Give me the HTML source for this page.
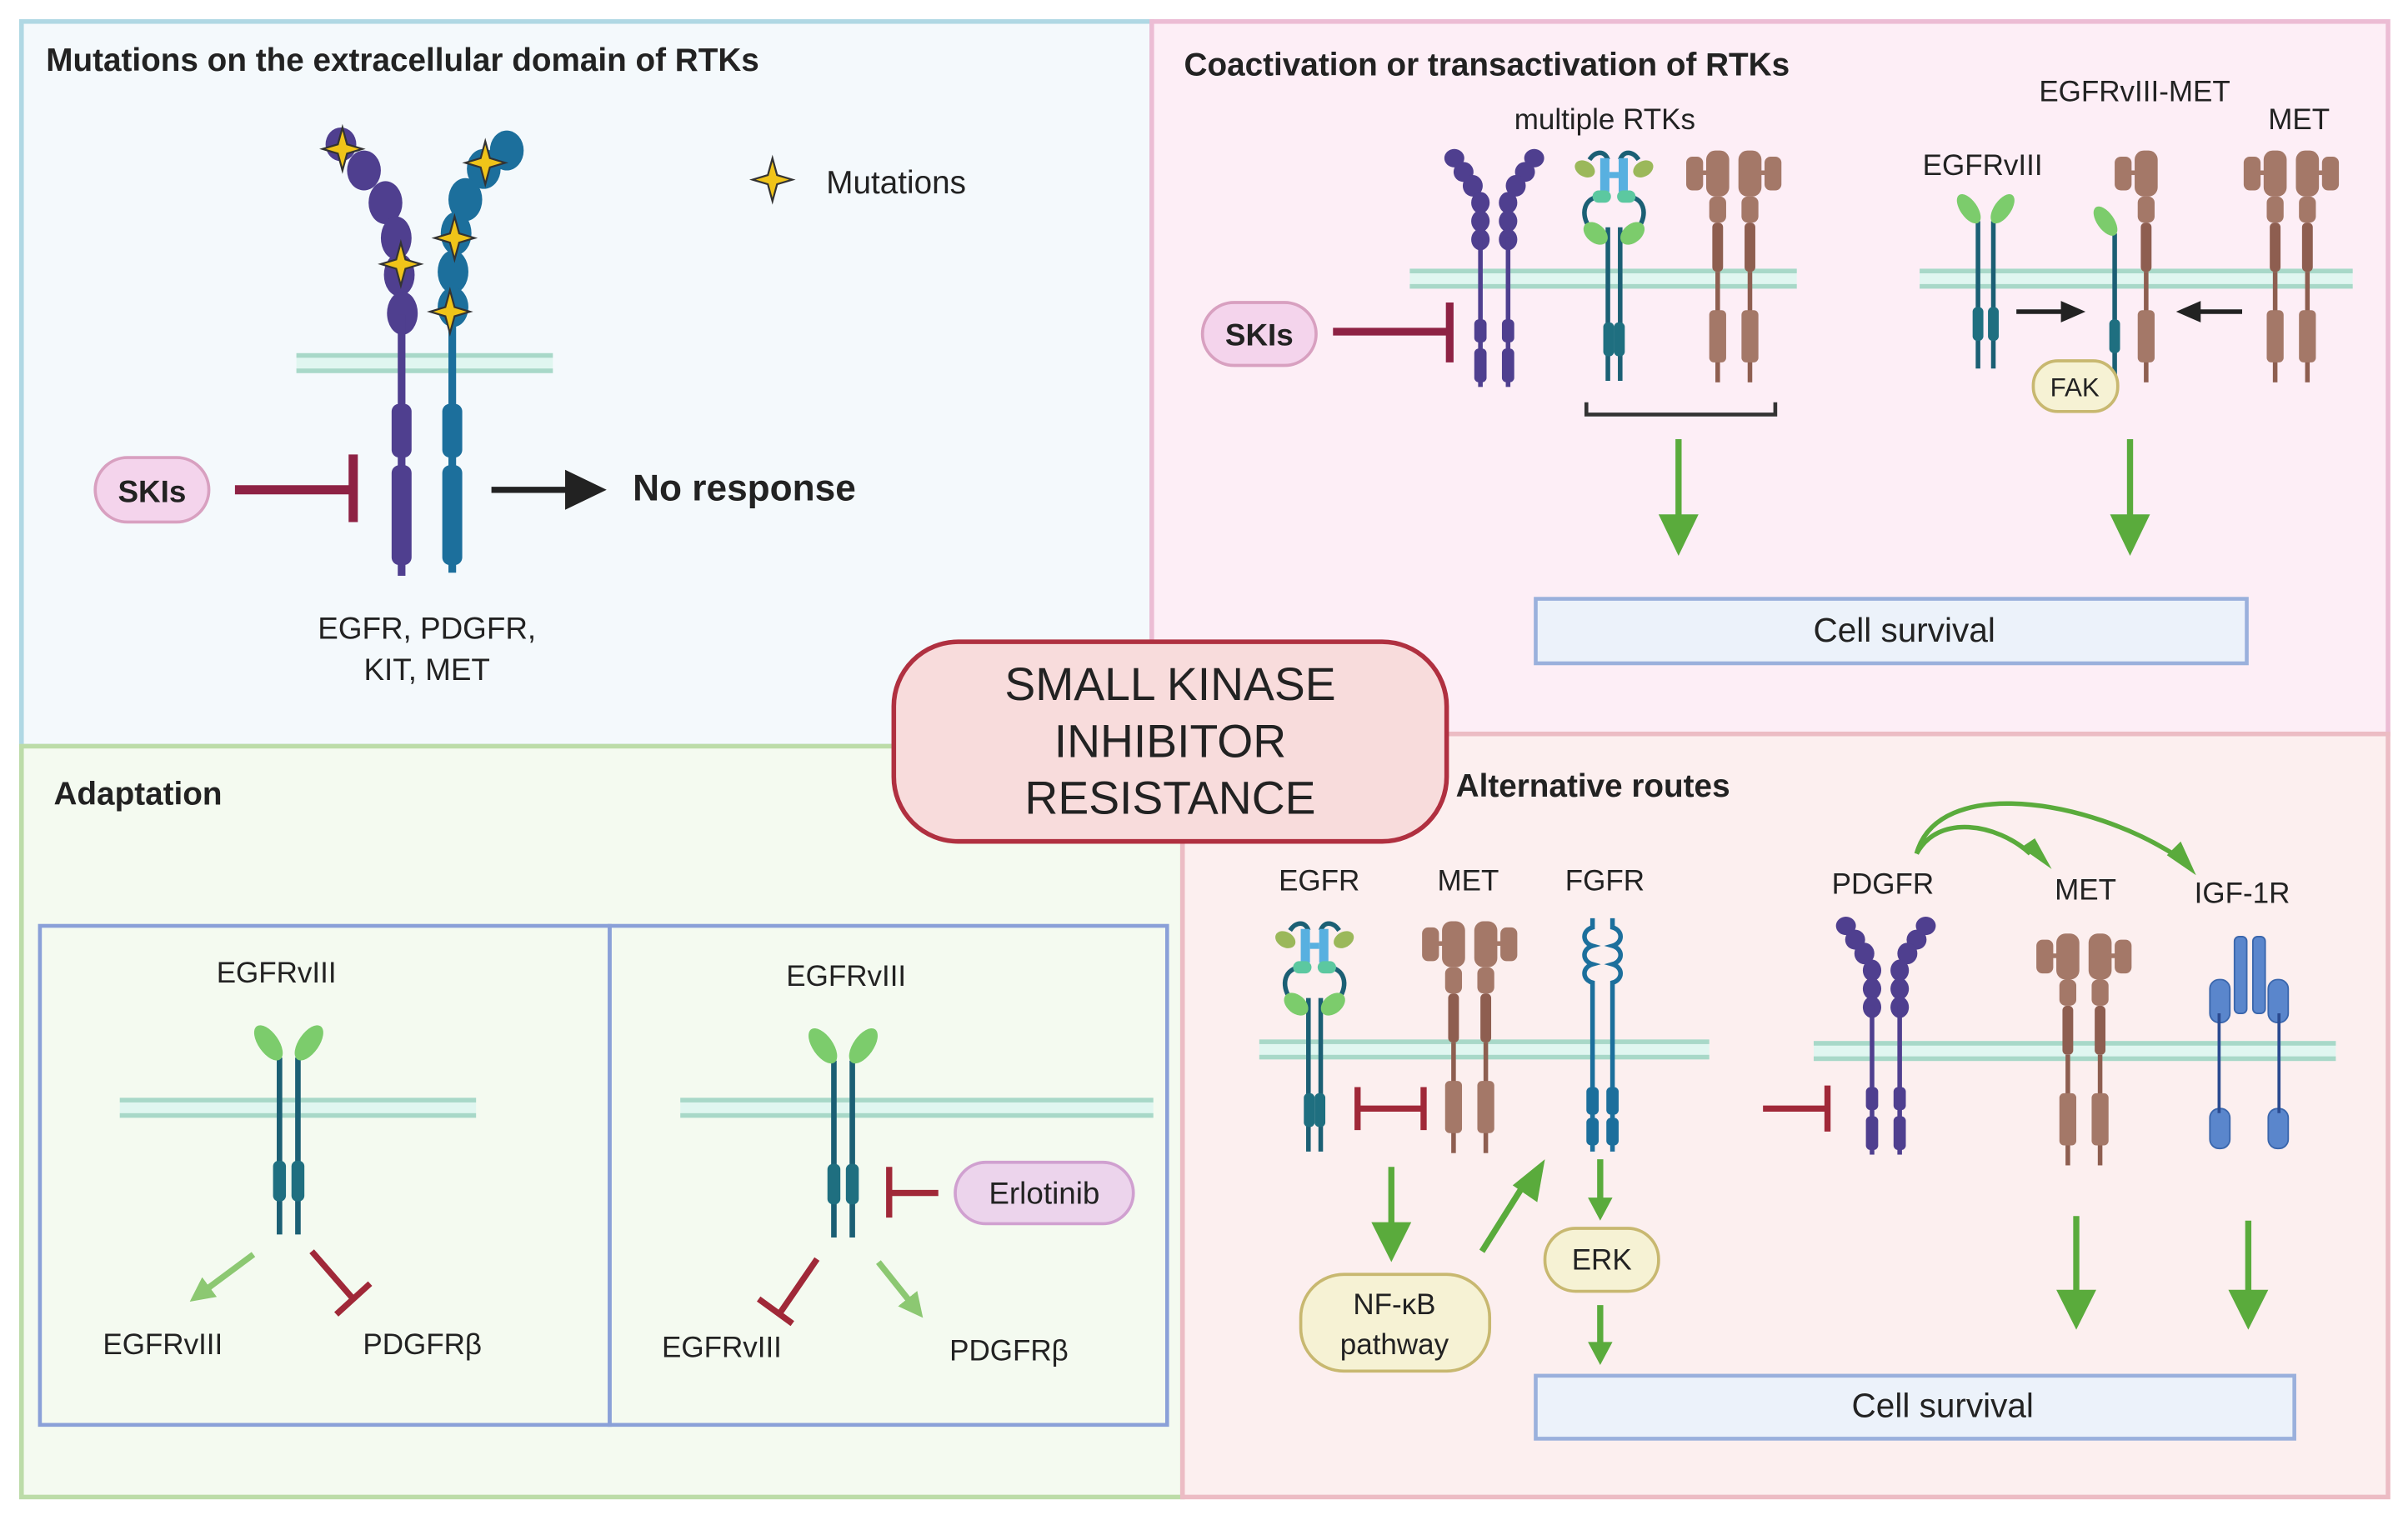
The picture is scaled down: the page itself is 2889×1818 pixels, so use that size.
<!DOCTYPE html>
<html><head><meta charset="utf-8"><style>
html,body{margin:0;padding:0;background:#fff}
svg{display:block}
text{font-family:"Liberation Sans",sans-serif;fill:#222}
.t{font-weight:bold;font-size:21px}
.l{font-size:19px}
</style></head><body>
<svg width="2889" height="1818" viewBox="0 0 1568 986.7" xmlns="http://www.w3.org/2000/svg">
<defs>
<marker id="agl" viewBox="0 0 10 10" refX="5" refY="5" markerWidth="4" markerHeight="4" orient="auto"><path d="M0,0 L10,5 L0,10z" fill="#8cc872"/></marker>
<g id="pur" fill="#4f3f8f">
 <g id="parm"><ellipse cx="-26" cy="3" rx="6.5" ry="6"/><ellipse cx="-20" cy="12" rx="6.5" ry="6.5"/><ellipse cx="-14" cy="21" rx="6.5" ry="7"/><ellipse cx="-9" cy="32" rx="6" ry="7"/><ellipse cx="-9" cy="44" rx="6" ry="7"/><ellipse cx="-9" cy="56" rx="6" ry="7"/>
 <rect x="-10.5" y="55" width="3" height="97"/><rect x="-13" y="108" width="8" height="15" rx="3"/><rect x="-13" y="127" width="8" height="22" rx="3"/></g>
 <use href="#parm" transform="scale(-1,1)"/>
</g>
<g id="met" fill="#a47868">
 <g id="mhalf"><rect x="-18" y="0" width="15" height="30" rx="6"/><rect x="-31" y="4" width="11" height="22" rx="4"/><rect x="-22" y="13" width="5" height="3"/>
 <rect x="-16" y="30" width="11" height="17" rx="4"/><rect x="-14" y="47" width="7" height="32" rx="3" fill="#8e5e50"/><rect x="-12" y="79" width="3" height="72" fill="#8e5e50"/><rect x="-16" y="104" width="11" height="34" rx="3"/></g>
 <use href="#mhalf" transform="scale(-1,1)"/>
</g>
<g id="egfr">
 <g id="ehalf"><path d="M-4,48 L-4,148" stroke="#1b5f74" stroke-width="3" fill="none"/><path d="M-8,28 C-20,28 -22,40 -16,48" stroke="#1b5f74" stroke-width="3" fill="none"/><path d="M-16,4 C-12,-2 -6,-2 -4,4" stroke="#1b5f74" stroke-width="3" fill="none"/>
 <ellipse cx="-19" cy="10" rx="7" ry="5" fill="#9bb85a" transform="rotate(30 -19 10)"/><rect x="-9" y="3" width="6" height="22" fill="#58b0e0"/><rect x="-14" y="24" width="12" height="8" rx="4" fill="#5cc8a0"/>
 <ellipse cx="-12" cy="52" rx="9" ry="6" fill="#7ccc6c" transform="rotate(40 -12 52)"/><rect x="-7" y="110" width="7" height="22" rx="3" fill="#1f6f80"/></g>
 <use href="#ehalf" transform="scale(-1,1)"/>
 <rect x="-3" y="12" width="6" height="4" fill="#58b0e0"/>
</g>
<g id="v3h"><path d="M-5,14 L-5,110" stroke="#1b5f74" stroke-width="3" fill="none"/><ellipse cx="-11" cy="6" rx="5.5" ry="11" fill="#7ccc6c" transform="rotate(-35 -11 6)"/><rect x="-8.5" y="70" width="7" height="22" rx="3" fill="#1f6f80"/></g>
<g id="v3"><use href="#v3h"/><use href="#v3h" transform="scale(-1,1)"/></g>
<g id="mem"><rect x="0" y="0" width="100" height="13" fill="#e0f6f0"/><rect x="0" y="0" width="100" height="3" fill="#a8d8c8"/><rect x="0" y="10" width="100" height="3" fill="#a8d8c8"/></g>
<path id="star" d="M0,-14 L3,-3 L13,0 L3,3 L0,14 L-3,3 L-13,0 L-3,-3z" fill="#f0c419" stroke="#333" stroke-width="1.2"/>
</defs>

<rect x="14" y="14" width="736" height="472" fill="#f4f9fc" stroke="#b0d8e4" stroke-width="3"/>
<rect x="750" y="14" width="805" height="464" fill="#fdeef6" stroke="#ecbcd4" stroke-width="3"/>
<rect x="14" y="486" width="756" height="489" fill="#f4faf0" stroke="#bcdca8" stroke-width="3"/>
<rect x="770" y="478" width="785" height="497" fill="#fcefef" stroke="#ecbcc4" stroke-width="3"/>

<text class="t" x="30" y="46">Mutations on the extracellular domain of RTKs</text>
<use href="#mem" transform="translate(193,230) scale(1.67,1)"/>
<g fill="#4f3f8f">
 <ellipse cx="222" cy="94" rx="10" ry="11"/><ellipse cx="237" cy="111" rx="11" ry="13"/><ellipse cx="251" cy="132" rx="11" ry="14"/><ellipse cx="258" cy="155" rx="10" ry="14"/><ellipse cx="260" cy="179" rx="10" ry="14"/><ellipse cx="262" cy="204" rx="10" ry="14"/>
 <rect x="259" y="205" width="5" height="170"/><rect x="255" y="263" width="13" height="35" rx="5"/><rect x="255" y="303" width="13" height="65" rx="5"/>
</g>
<g fill="#1c6f9c">
 <ellipse cx="330" cy="98" rx="11" ry="13"/><ellipse cx="315" cy="110" rx="11" ry="13"/><ellipse cx="303" cy="130" rx="11" ry="14"/><ellipse cx="297" cy="152" rx="10" ry="14"/><ellipse cx="295" cy="177" rx="10" ry="14"/><ellipse cx="295" cy="200" rx="10" ry="13"/>
 <rect x="292" y="205" width="5" height="168"/><rect x="288" y="263" width="13" height="35" rx="5"/><rect x="288" y="303" width="13" height="65" rx="5"/>
</g>
<use href="#star" x="223" y="97"/><use href="#star" x="316" y="106"/><use href="#star" x="261" y="172"/><use href="#star" x="296" y="155"/><use href="#star" x="293" y="203"/>
<use href="#star" x="503" y="117"/>
<text x="538" y="126" style="font-size:21px">Mutations</text>
<rect x="62" y="298" width="74" height="42" rx="21" fill="#f4d4ec" stroke="#d8a0c0" stroke-width="2"/>
<text x="99" y="327" text-anchor="middle" style="font-size:20px;font-weight:bold">SKIs</text>
<line x1="153" y1="319" x2="229" y2="319" stroke="#8e2244" stroke-width="6"/><line x1="230" y1="296" x2="230" y2="340" stroke="#8e2244" stroke-width="6"/>
<line x1="320" y1="319" x2="370" y2="319" stroke="#222" stroke-width="4"/><path d="M368,306 L395,319 L368,332z" fill="#222"/>
<text x="412" y="326" style="font-size:24px;font-weight:bold">No response</text>
<text x="278" y="416" text-anchor="middle" style="font-size:20px">EGFR, PDGFR,</text>
<text x="278" y="443" text-anchor="middle" style="font-size:20px">KIT, MET</text>

<text class="t" x="771" y="49">Coactivation or transactivation of RTKs</text>
<text class="l" x="1045" y="84" text-anchor="middle">multiple RTKs</text>
<use href="#mem" transform="translate(918,175) scale(2.52,1)"/>
<use href="#pur" transform="translate(973,100)"/>
<use href="#egfr" transform="translate(1051,100)"/>
<use href="#met" transform="translate(1129,98)"/>
<rect x="783" y="197" width="74" height="41" rx="20.5" fill="#f4d4ec" stroke="#d8a0c0" stroke-width="2"/>
<text x="820" y="225" text-anchor="middle" style="font-size:20px;font-weight:bold">SKIs</text>
<line x1="868" y1="216" x2="942" y2="216" stroke="#8e2244" stroke-width="5"/><line x1="944" y1="197" x2="944" y2="236" stroke="#8e2244" stroke-width="5"/>
<path d="M1033,262 L1033,270 L1156,270 L1156,262" stroke="#333" stroke-width="2.5" fill="none"/>
<line x1="1093" y1="286" x2="1093" y2="340" stroke="#5aab3c" stroke-width="4"/><path d="M1080,335 L1106,335 L1093,362z" fill="#5aab3c"/>
<line x1="1387" y1="286" x2="1387" y2="340" stroke="#5aab3c" stroke-width="4"/><path d="M1374,335 L1400,335 L1387,362z" fill="#5aab3c"/>
<rect x="1000" y="390" width="463" height="42" fill="#ecf2fa" stroke="#9ab0dc" stroke-width="2.5"/>
<text x="1240" y="418" text-anchor="middle" style="font-size:22px">Cell survival</text>
<text class="l" x="1390" y="66" text-anchor="middle">EGFRvIII-MET</text>
<text class="l" x="1497" y="84" text-anchor="middle">MET</text>
<text class="l" x="1291" y="114" text-anchor="middle">EGFRvIII</text>
<use href="#mem" transform="translate(1250,175) scale(2.82,1)"/>
<use href="#v3" transform="translate(1293,130)"/>
<use href="#v3h" transform="translate(1382,138)"/>
<use href="#mhalf" transform="translate(1408,98)" fill="#a47868"/>
<use href="#met" transform="translate(1492,98)"/>
<line x1="1313" y1="203" x2="1345" y2="203" stroke="#222" stroke-width="3"/><path d="M1342,196 L1358,203 L1342,210z" fill="#222"/>
<line x1="1460" y1="203" x2="1430" y2="203" stroke="#222" stroke-width="3"/><path d="M1433,196 L1417,203 L1433,210z" fill="#222"/>
<rect x="1324" y="235" width="55" height="33" rx="16" fill="#f6f2d4" stroke="#c8b870" stroke-width="2"/>
<text x="1351" y="258" text-anchor="middle" style="font-size:17px">FAK</text>

<text class="t" x="35" y="524">Adaptation</text>
<rect x="26" y="603" width="371" height="325" fill="none" stroke="#8aa0d8" stroke-width="2.5"/>
<rect x="397" y="603" width="363" height="325" fill="none" stroke="#8aa0d8" stroke-width="2.5"/>
<text class="l" x="180" y="640" text-anchor="middle">EGFRvIII</text>
<use href="#mem" transform="translate(78,715) scale(2.32,1)"/>
<use href="#v3" transform="translate(188,672) scale(1.2)"/>
<line x1="165" y1="817" x2="130" y2="843" stroke="#8cc872" stroke-width="4" marker-end="url(#agl)"/>
<line x1="203" y1="815" x2="230" y2="846" stroke="#a02838" stroke-width="4"/><line x1="219" y1="856" x2="241" y2="836" stroke="#a02838" stroke-width="4"/>
<text class="l" x="106" y="882" text-anchor="middle">EGFRvIII</text>
<text class="l" x="275" y="882" text-anchor="middle">PDGFRβ</text>
<text class="l" x="551" y="642" text-anchor="middle">EGFRvIII</text>
<use href="#mem" transform="translate(443,715) scale(3.08,1)"/>
<use href="#v3" transform="translate(549,674) scale(1.2)"/>
<rect x="622" y="757" width="116" height="40" rx="20" fill="#ecd4ec" stroke="#d0a0d0" stroke-width="2"/>
<text x="680" y="784" text-anchor="middle" style="font-size:20px">Erlotinib</text>
<line x1="579" y1="777" x2="611" y2="777" stroke="#a02838" stroke-width="4"/><line x1="579" y1="760" x2="579" y2="793" stroke="#a02838" stroke-width="4"/>
<line x1="532" y1="820" x2="508" y2="855" stroke="#a02838" stroke-width="4"/><line x1="494" y1="846" x2="516" y2="862" stroke="#a02838" stroke-width="4"/>
<line x1="572" y1="822" x2="596" y2="852" stroke="#8cc872" stroke-width="4" marker-end="url(#agl)"/>
<text class="l" x="470" y="884" text-anchor="middle">EGFRvIII</text>
<text class="l" x="657" y="886" text-anchor="middle">PDGFRβ</text>

<text class="t" x="948" y="519">Alternative routes</text>
<text class="l" x="859" y="580" text-anchor="middle">EGFR</text>
<text class="l" x="956" y="580" text-anchor="middle">MET</text>
<text class="l" x="1045" y="580" text-anchor="middle">FGFR</text>
<text class="l" x="1226" y="582" text-anchor="middle">PDGFR</text>
<text class="l" x="1358" y="586" text-anchor="middle">MET</text>
<text class="l" x="1460" y="588" text-anchor="middle">IGF-1R</text>
<use href="#mem" transform="translate(820,677) scale(2.93,1)"/>
<use href="#mem" transform="translate(1181,678) scale(3.4,1)"/>
<use href="#egfr" transform="translate(856,602)"/>
<use href="#met" transform="translate(957,600)"/>
<g stroke="#1c6f9c" stroke-width="3" fill="none">
 <path d="M1037,598 L1037,604 C1030,606 1030,614 1037,616 C1030,618 1030,626 1037,628 C1030,630 1030,638 1037,640 L1037,750"/>
 <path d="M1050,598 L1050,604 C1057,606 1057,614 1050,616 C1057,618 1057,626 1050,628 C1057,630 1057,638 1050,640 L1050,750"/>
</g>
<rect x="1033" y="708" width="8" height="18" rx="3" fill="#1c6f9c"/><rect x="1046" y="708" width="8" height="18" rx="3" fill="#1c6f9c"/>
<rect x="1033" y="728" width="8" height="18" rx="3" fill="#1c6f9c"/><rect x="1046" y="728" width="8" height="18" rx="3" fill="#1c6f9c"/>
<use href="#pur" transform="translate(1228,600)"/>
<use href="#met" transform="translate(1357,608)"/>
<g fill="#5a86cc" stroke="#3a66ac" stroke-width="1">
 <rect x="1455" y="610" width="8" height="50" rx="3"/><rect x="1467" y="610" width="8" height="50" rx="3"/>
 <rect x="1439" y="638" width="13" height="28" rx="6"/><rect x="1477" y="638" width="13" height="28" rx="6"/>
 <rect x="1439" y="722" width="13" height="26" rx="6"/><rect x="1477" y="722" width="13" height="26" rx="6"/>
</g>
<line x1="1445" y1="660" x2="1445" y2="725" stroke="#2a4a90" stroke-width="2"/><line x1="1484" y1="660" x2="1484" y2="725" stroke="#2a4a90" stroke-width="2"/>
<line x1="884" y1="722" x2="927" y2="722" stroke="#a02838" stroke-width="4"/><line x1="884" y1="708" x2="884" y2="736" stroke="#a02838" stroke-width="4"/><line x1="927" y1="708" x2="927" y2="736" stroke="#a02838" stroke-width="4"/>
<line x1="1148" y1="722" x2="1190" y2="722" stroke="#a02838" stroke-width="4"/><line x1="1190" y1="707" x2="1190" y2="737" stroke="#a02838" stroke-width="4"/>
<g stroke="#5aab3c" stroke-width="4" fill="none">
<line x1="906" y1="760" x2="906" y2="800"/><line x1="965" y1="815" x2="992" y2="772"/><line x1="1042" y1="755" x2="1042" y2="782"/><line x1="1042" y1="850" x2="1042" y2="876"/>
<line x1="1352" y1="792" x2="1352" y2="845"/><line x1="1464" y1="795" x2="1464" y2="845"/>
<path d="M1248,556 C1262,530 1300,536 1322,556" stroke-width="3"/><path d="M1248,556 C1262,505 1360,520 1418,558" stroke-width="3"/>
</g>
<g fill="#5aab3c">
<path d="M893,796 L919,796 L906,822z"/><path d="M985,772 L1006,755 L1001,783z"/><path d="M1034,780 L1050,780 L1042,795z"/><path d="M1034,874 L1050,874 L1042,889z"/>
<path d="M1339,840 L1365,840 L1352,866z"/><path d="M1451,840 L1477,840 L1464,866z"/>
<path d="M1316,552 L1336,566 L1325,546z" /><path d="M1411,557 L1430,570 L1420,548z"/>
</g>
<rect x="1006" y="800" width="74" height="41" rx="20" fill="#f6f2d4" stroke="#c8b870" stroke-width="2"/>
<text x="1043" y="827" text-anchor="middle" style="font-size:19px">ERK</text>
<rect x="847" y="830" width="123" height="63" rx="28" fill="#f6f2d4" stroke="#c8b870" stroke-width="2"/>
<text x="908" y="856" text-anchor="middle" style="font-size:19px">NF-κB</text>
<text x="908" y="882" text-anchor="middle" style="font-size:19px">pathway</text>
<rect x="1000" y="896" width="494" height="41" fill="#ecf2fa" stroke="#9ab0dc" stroke-width="2.5"/>
<text x="1265" y="923" text-anchor="middle" style="font-size:22px">Cell survival</text>

<rect x="582" y="418" width="360" height="130" rx="42" fill="#f8dcdc" stroke="#b03040" stroke-width="3"/>
<text x="762" y="456" text-anchor="middle" style="font-size:30px">SMALL KINASE</text>
<text x="762" y="493" text-anchor="middle" style="font-size:30px">INHIBITOR</text>
<text x="762" y="530" text-anchor="middle" style="font-size:30px">RESISTANCE</text>
</svg>
</body></html>
